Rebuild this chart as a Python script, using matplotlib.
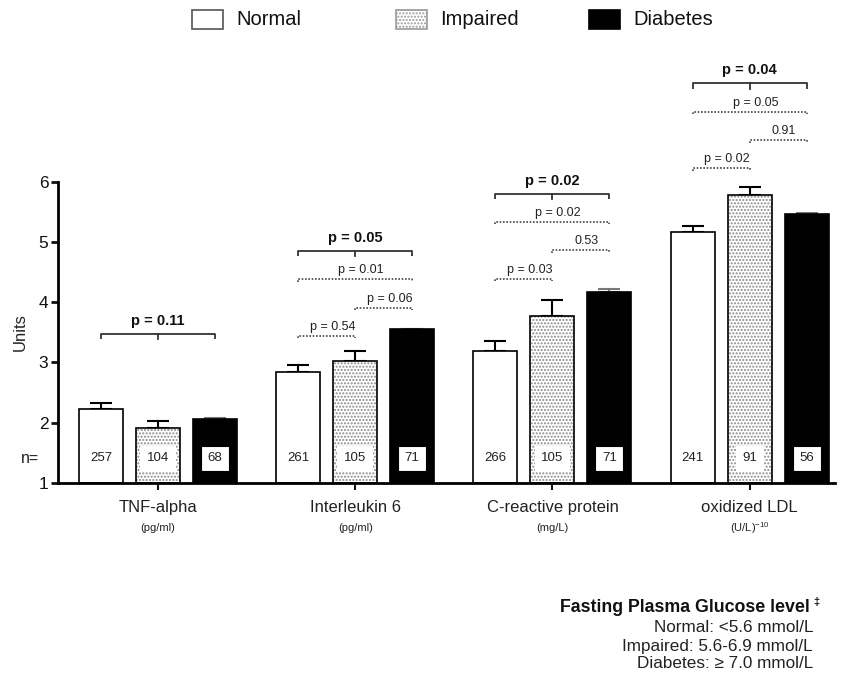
import matplotlib
matplotlib.use("Agg")
import matplotlib.pyplot as plt
from matplotlib.patches import Rectangle
import numpy as np

plt.rcParams['font.family'] = ['Liberation Sans', 'DejaVu Sans']

# ---- data -------------------------------------------------------------
markers = ["TNF-alpha", "Interleukin 6", "C-reactive protein", "oxidized LDL"]
units = ["(pg/ml)", "(pg/ml)", "(mg/L)", r"(U/L)$^{\mathregular{-10}}$"]
groups = ["Normal", "Impaired", "Diabetes"]

means_normal = [2.22, 2.85, 3.19, 5.17]
means_impaired = [1.92, 3.03, 3.77, 5.78]
means_diabetes = [2.07, 3.55, 4.17, 5.47]

sem_normal = [0.10, 0.10, 0.17, 0.10]
sem_impaired = [0.11, 0.16, 0.26, 0.13]
sem_diabetes = [0.01, 0.01, 0.05, 0.01]

n_normal = [257, 261, 266, 241]
n_impaired = [104, 105, 105, 91]
n_diabetes = [68, 71, 71, 56]

# overall trend p values (bold brackets)
p_overall = ["0.11", "0.05", "0.02", "0.04"]
# pairwise comparisons: Normal vs Diabetes, Impaired vs Diabetes, Normal vs Impaired
p_norm_diab = [None, "p = 0.01", "p = 0.02", "p = 0.05"]
p_imp_diab = [None, "p = 0.06", "0.53", "0.91"]
p_norm_imp = [None, "p = 0.54", "p = 0.03", "p = 0.02"]
# bracket heights (in Units)
bracket_levels = [3.48, 4.85, 5.80, 7.63]

# ---- layout -----------------------------------------------------------
W, H = 842, 674
fig = plt.figure(figsize=(W / 100, H / 100), dpi=100)
ax_left, ax_right, ax_bottom, ax_top = 58, 835, 483, 181.7
ax = fig.add_axes([ax_left / W, 1 - ax_bottom / H,
                   (ax_right - ax_left) / W, (ax_bottom - ax_top) / H])

gap = 3.46
centers = np.arange(len(markers)) * gap
bw = 0.77
offsets = [-1, 0, 1]

all_means = [means_normal, means_impaired, means_diabetes]
all_sem = [sem_normal, sem_impaired, sem_diabetes]
all_n = [n_normal, n_impaired, n_diabetes]

DOT = '#8a8a8a'
for gi in range(3):
    xs = centers + offsets[gi]
    m = np.array(all_means[gi])
    heights = m - 1
    if gi == 0:
        ax.bar(xs, heights, bw, bottom=1, color='white', edgecolor='black', lw=1.2, zorder=2)
    elif gi == 1:
        ax.bar(xs, heights, bw, bottom=1, color='white', edgecolor=DOT, hatch='.....', lw=0, zorder=2)
        ax.bar(xs, heights, bw, bottom=1, color='none', edgecolor='black', lw=1.2, zorder=3)
    else:
        ax.bar(xs, heights, bw, bottom=1, color='black', edgecolor='black', lw=1.2, zorder=2)
    ecol = 'black' if gi < 2 else '#777777'
    ax.errorbar(xs, m, yerr=[np.zeros_like(m), np.array(all_sem[gi])], fmt='none',
                ecolor=ecol, elinewidth=1.5, capsize=8, capthick=1.5, zorder=1)
    for x, n in zip(xs, all_n[gi]):
        ax.text(x, 1.41, str(n), ha='center', va='center', fontsize=9.5, color='#222222',
                zorder=5,
                bbox=dict(boxstyle='square,pad=0.5', fc='white',
                          ec='black' if gi == 2 else 'none', lw=0.8))

ax.text(-2.09, 1.41, "n=", ha='right', va='center', fontsize=11.5, color='#222222')

# significance annotations
step = 0.47
for i, c in enumerate(centers):
    xl, xm, xr = c - 1, c, c + 1
    y0 = bracket_levels[i]
    t = 0.09
    ax.plot([xl, xl, xr, xr], [y0 - t, y0, y0, y0 - t], color='#333333', lw=1.3,
            clip_on=False, solid_capstyle='butt')
    ax.plot([xm, xm], [y0, y0 - t], color='#333333', lw=1.3, clip_on=False)
    ax.text(xm, y0 + 0.1, "p = " + p_overall[i], ha='center', va='bottom',
            fontsize=10.5, fontweight='bold', color='#111111')
    pairs = [(p_norm_diab[i], xl, xr), (p_imp_diab[i], xm, xr), (p_norm_imp[i], xl, xm)]
    for k, (lab, a, b) in enumerate(pairs):
        if lab is None:
            continue
        yk = y0 - step * (k + 1)
        tt = 0.04
        ax.plot([a, a, b, b], [yk - tt, yk, yk, yk - tt], color='#444444', lw=1.2,
                ls=(0, (1, 1)), clip_on=False)
        ax.text((a + b) / 2 + 0.1, yk + 0.05, lab, ha='center', va='bottom',
                fontsize=9, color='#222222')

ax.set_xlim(-(158 - ax_left) / 57, (ax_right - 158) / 57)
ax.set_ylim(1, 6)
ax.set_yticks([1, 2, 3, 4, 5, 6])
ax.set_xticks(centers)
ax.set_xticklabels([])
for sp in ['top', 'right']:
    ax.spines[sp].set_visible(False)
for sp in ['left', 'bottom']:
    ax.spines[sp].set_linewidth(2)
ax.tick_params(axis='y', length=5, width=2, labelsize=12.5, pad=2, colors='#111111')
ax.tick_params(axis='x', length=5, width=1.5, colors='#111111')
ax.set_ylabel("Units", fontsize=12, labelpad=8, color='#222222')

for c, name, unit in zip(centers, markers, units):
    ax.annotate(name, xy=(c, 0), xycoords=('data', 'axes fraction'),
                xytext=(0, -24.7), textcoords='offset pixels',
                ha='center', va='center', fontsize=12, color='#222222')
    ax.annotate(unit, xy=(c, 0), xycoords=('data', 'axes fraction'),
                xytext=(0, -45), textcoords='offset pixels',
                ha='center', va='center', fontsize=8, color='#222222')

# legend keys across the top
key_x = [192, 396, 589]
key_style = [dict(facecolor='white', edgecolor='#555555'),
             dict(facecolor='white', edgecolor='#999999', hatch='.....'),
             dict(facecolor='black', edgecolor='black')]
for kx, label, st in zip(key_x, groups, key_style):
    fig.add_artist(Rectangle((kx / W, 1 - 29 / H), 31 / W, 19 / H,
                             transform=fig.transFigure, lw=1.2, **st))
    fig.text((kx + 44) / W, 1 - 19.5 / H, label, ha='left', va='center',
             fontsize=14.5, color='#111111')

# footnote
fx = 810 / W
fig.text(fx, 1 - 607 / H, "Fasting Plasma Glucose level", ha='right', va='center',
         fontsize=12.8, fontweight='bold', color='#111111')
fig.text(fx + 0.004, 1 - 602 / H, "\u2021", ha='left', va='center', fontsize=8,
         fontweight='bold', color='#111111')
for yy, line in zip([628, 646, 664], ["Normal: <5.6 mmol/L", "Impaired: 5.6-6.9 mmol/L",
                                      "Diabetes: \u2265 7.0 mmol/L"]):
    fig.text(813 / W, 1 - yy / H, line, ha='right', va='center', fontsize=12.3, color='#222222')

fig.savefig("out.png", dpi=100)
